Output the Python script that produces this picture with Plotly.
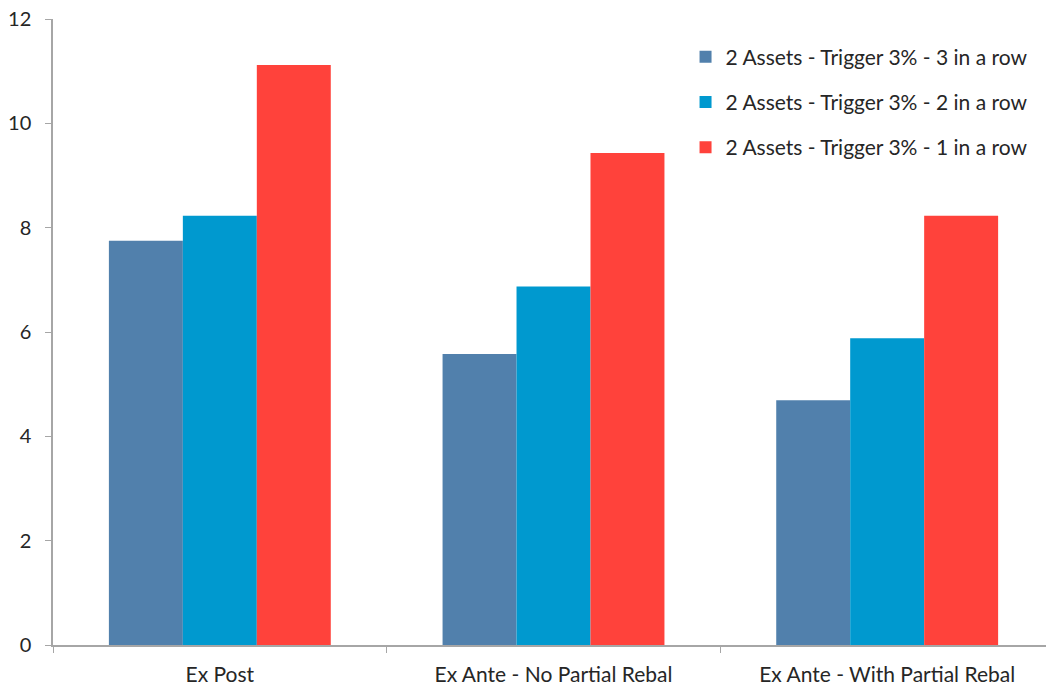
import plotly.graph_objects as go

categories = ["Ex Post", "Ex Ante - No Partial Rebal", "Ex Ante - With Partial Rebal"]
series_names = [
    "2 Assets - Trigger 3% - 3 in a row",
    "2 Assets - Trigger 3% - 2 in a row",
    "2 Assets - Trigger 3% - 1 in a row",
]
three_in_row = [7.75, 5.58, 4.69]
two_in_row = [8.23, 6.87, 5.88]
one_in_row = [11.12, 9.43, 8.23]
colors = ["#5180AC", "#0099CF", "#FF423B"]
y_ticks = [0, 2, 4, 6, 8, 10, 12]

FONT = "Lato, 'Open Sans', sans-serif"

fig = go.Figure()
for i, (name, vals) in enumerate(zip(series_names, [three_in_row, two_in_row, one_in_row])):
    fig.add_trace(go.Bar(
        x=categories, y=vals, name=name,
        marker=dict(color=colors[i], line=dict(width=0)),
        legendgroup=f"g{i}",
    ))

fig.update_layout(
    width=1046, height=691,
    margin=dict(l=53, r=0, t=19, b=46),
    paper_bgcolor="white", plot_bgcolor="white",
    barmode="group", bargap=0.335, bargroupgap=0,
    font=dict(family=FONT, size=18, color="#262626"),
    showlegend=True,
    legend=dict(
        x=0.637, y=0.972, xanchor="left", yanchor="top",
        font=dict(size=21, color="#262626"),
        tracegroupgap=15, bgcolor="rgba(0,0,0,0)",
        itemwidth=30,
    ),
    xaxis=dict(
        range=[-0.5, 2.476],
        showline=True, linecolor="#A6A6A6", linewidth=1.5,
        ticks="outside", tickson="boundaries", ticklen=6, tickcolor="#A6A6A6",
        showgrid=False, zeroline=False,
        tickfont=dict(size=21, color="#262626"),
        ticklabelstandoff=10,
    ),
    yaxis=dict(
        range=[0, 12], tickvals=y_ticks,
        showline=True, linecolor="#A6A6A6", linewidth=1.5,
        ticks="outside", ticklen=6, tickcolor="#A6A6A6",
        showgrid=False, zeroline=False,
        tickfont=dict(size=20, color="#262626"),
        ticklabelstandoff=10,
    ),
)

fig.write_html("out.html")
